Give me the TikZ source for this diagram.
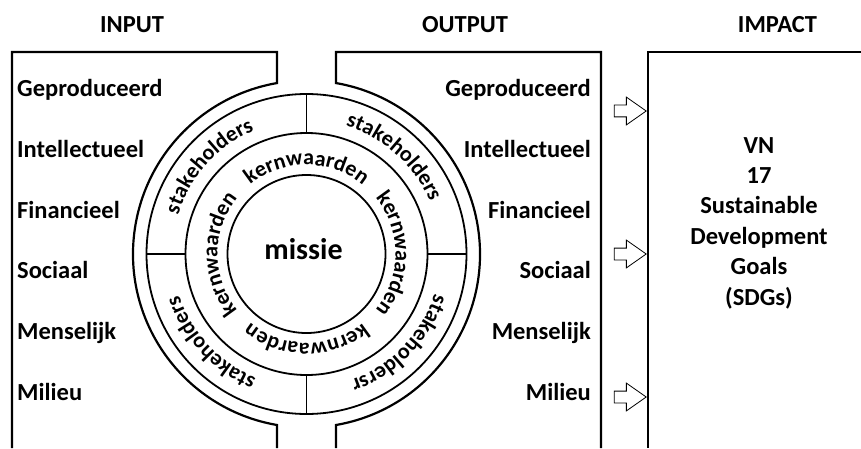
\documentclass[tikz,border=0pt]{standalone}
\usepackage{fontspec}
\setmainfont{Carlito}
\usetikzlibrary{shapes.arrows,decorations.text}

\newcommand\ringfont{\fontsize{22}{26}\selectfont\bfseries}

\begin{document}
\begin{tikzpicture}[x=1pt, y=1pt,
   frame/.style={line width=2.2pt, line join=miter},
   ringline/.style={circle, draw, line width=1.8pt, inner sep=0},
   divider/.style={line width=1.2pt},
   heading/.style={font=\fontsize{24.5}{28}\selectfont\bfseries, inner sep=0},
   entry/.style={font=\fontsize{24.5}{28}\selectfont\bfseries, inner sep=0},
   flow/.style={single arrow, draw, line width=0.8pt, inner xsep=0, inner ysep=5.5pt,
      minimum height=32pt, single arrow head extend=8pt, single arrow tip angle=70}]
   \useasboundingbox (0,0) rectangle (861,448);

   \node[heading, anchor=base] (input) at (132,415) {INPUT};
   \node[heading, anchor=base] (output) at (465,415) {OUTPUT};
   \node[heading, anchor=base] (impact) at (777.5,415) {IMPACT};

   \draw[frame] (277,0) -- (277,23) arc[start angle=260.21, end angle=99.79, radius=173.5]
      -- (277,396) -- (12,396) -- (12,0);
   \draw[frame] (336,0) -- (336,23) arc[start angle=-80.21, end angle=80.21, radius=173.5]
      -- (336,396) -- (601,396) -- (601,0);
   \draw[frame] (861,396) -- (648,396) -- (648,0);

   \coordinate (c) at (306.5,194);
   \node[ringline, minimum size=320pt] (outer) at (c) {};
   \node[ringline, minimum size=242pt] (middle) at (c) {};
   \node[ringline, minimum size=158pt] (core) at (c) {};
   \node[font=\fontsize{30}{34}\selectfont\bfseries, inner sep=0, anchor=base] (missie)
      at ([shift={(-3,-5)}]c) {missie};

   \draw[divider] (middle.north) -- (outer.north);
   \draw[divider] (middle.east) -- (outer.east);
   \draw[divider] (middle.south) -- (outer.south);
   \draw[divider] (middle.west) -- (outer.west);

   \foreach \a in {90,0,270,180}
      \path[decorate, decoration={text along path, text align=center,
         text={|\ringfont|kernwaarden}}]
         ([shift={(\a+50:89)}]c) arc[start angle=\a+50, end angle=\a-50, radius=89];

   \path[decorate, decoration={text along path, text align=center,
      text={|\ringfont|stakeholders}}]
      ([shift={(183:134)}]c) arc[start angle=183, end angle=93, radius=134];
   \path[decorate, decoration={text along path, text align=center,
      text={|\ringfont|stakeholders}}]
      ([shift={(93:134)}]c) arc[start angle=93, end angle=3, radius=134];
   \path[decorate, decoration={text along path, text align=center,
      text={|\ringfont|stakeholdersr}}]
      ([shift={(361:134)}]c) arc[start angle=361, end angle=271, radius=134];
   \path[decorate, decoration={text along path, text align=center,
      text={|\ringfont|stakeholders}}]
      ([shift={(268:134)}]c) arc[start angle=268, end angle=178, radius=134];

   \foreach \t [count=\i] in {Geproduceerd,Intellectueel,Financieel,Sociaal,Menselijk,Milieu} {
      \node[entry, anchor=base west] (in\i) at (17,411.6-60.6*\i) {\t};
      \node[entry, anchor=base east] (out\i) at (591,411.6-60.6*\i) {\t};
   }

   \foreach \y [count=\i] in {337,194,51}
      \node[flow] (arrow\i) at (626,\y) {};

   \foreach \t [count=\i] in {VN,17,Sustainable,Development,Goals,(SDGs)}
      \node[entry, anchor=base] (sdg\i) at (759,325.4-30.4*\i) {\t};

\end{tikzpicture}
\end{document}
